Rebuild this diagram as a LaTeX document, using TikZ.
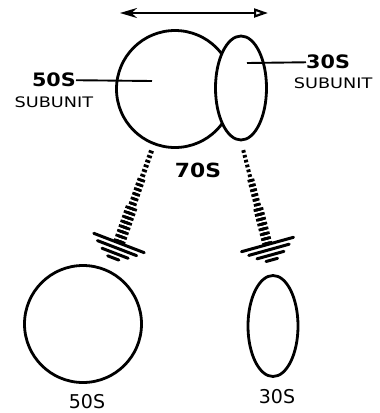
\documentclass[tikz,border=0pt]{standalone}
\usepackage{fontspec}
\setmainfont{DejaVu Sans}
\newfontfamily\numfont[FakeStretch=1.12]{DejaVu Sans}
\newfontfamily\widefont[FakeStretch=1.22]{DejaVu Sans}
\usepackage{tikz}
\usetikzlibrary{arrows.meta,positioning,shapes.geometric,calc}

\begin{document}
\begin{tikzpicture}[
  x=1pt,y=-1pt,
  part/.style={draw,line width=2.8pt,inner sep=0pt,fill=white},
  ring/.style={part,circle,minimum size=117pt},
  oval/.style={part,ellipse,minimum width=51pt,minimum height=104pt},
  numlab/.style={font=\numfont\bfseries\fontsize{18.5}{19}\selectfont,inner sep=0pt},
  sublab/.style={font=\widefont\fontsize{14.5}{15}\selectfont,inner sep=0pt},
  lab/.style={font=\fontsize{19}{19}\selectfont,inner sep=0pt},
  lead/.style={line width=1.9pt},
  ray/.style={dash pattern=on 2.7pt off 2.3pt},
  arrow/.style={{Stealth[length=17pt,width=10pt]}-{Triangle[open,length=14pt,width=9pt]},line width=2.2pt},
  plate/.pic={\draw[line width=3pt,line cap=round] (-27,0)--(27,0) (-21,5.5)--(21,5.5) (-14,11)--(14,11) (-6,16)--(6,16);}
]
\useasboundingbox (0,0) rectangle (380,413);
% 70S ribosome
\node[ring] (r70) at (175,89) {};
\node[oval] (s30) at (241,88) {};
\node[numlab,font=\numfont\bfseries\fontsize{19.5}{20}\selectfont] (l70) at (198,170) {70S};
\coordinate (motL) at (120,13);
\coordinate (motR) at (268,13);
\draw[arrow] (motL)--(motR);
% labels with leader lines
\node[numlab,anchor=east] (l50) at (76,80) {50S};
\node[sublab,below=9pt of l50] (u50) {SUBUNIT};
\node[numlab,anchor=west] (l30) at (306,62) {30S};
\node[sublab,below=8pt of l30,xshift=5pt] (u30) {SUBUNIT};
\coordinate (in50) at (152,81);
\coordinate (in30) at (247,63);
\draw[lead] (l50)--(in50);
\draw[lead] (in30)--(l30);
% dissociation
\coordinate (plateL) at (119,243);
\coordinate (plateR) at (267.5,244.5);
\coordinate (rayL) at ($(r70.249)!6pt!(plateL)$);
\coordinate (rayR) at ($(s30.south)!9pt!(plateR)$);
\draw[ray,line width=5pt] (rayL)--(plateL);
\draw[ray,line width=8pt] ($(rayL)!30pt!(plateL)$)--(plateL);
\draw[ray,line width=12pt] ($(rayL)!60pt!(plateL)$)--(plateL);
\draw[ray,line width=4pt] (rayR)--(plateR);
\draw[ray,line width=7pt] ($(rayR)!30pt!(plateR)$)--(plateR);
\draw[ray,line width=10pt] ($(rayR)!60pt!(plateR)$)--(plateR);
\pic[rotate=-21] at (plateL) {plate};
\pic[rotate=15.5] at (plateR) {plate};
% free subunits
\node[ring] (r50) at (83,324) {};
\node[oval,minimum width=50pt,minimum height=101pt] (s30b) at (273,326) {};
\node[lab,below=10pt of r50,xshift=4pt] (n50) {50S};
\node[lab,below=11pt of s30b,xshift=4pt] (n30) {30S};
\end{tikzpicture}
\end{document}
